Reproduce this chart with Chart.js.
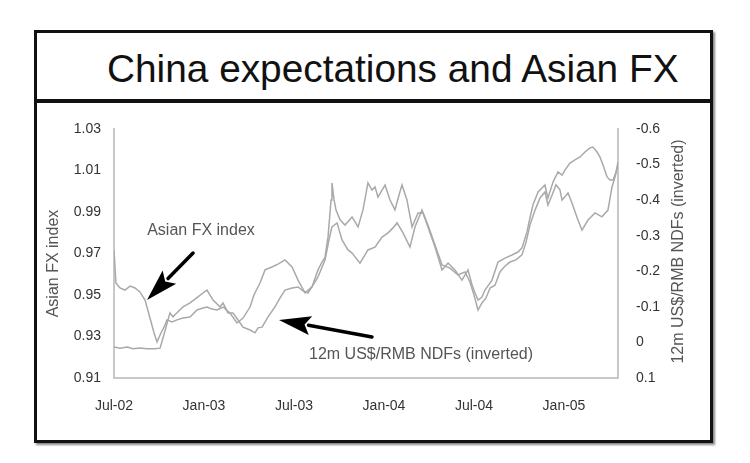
<!DOCTYPE html>
<html>
<head>
<meta charset="utf-8">
<script src="https://cdn.jsdelivr.net/npm/chart.js@4/dist/chart.umd.min.js"></script>
<style>
html,body{margin:0;padding:0;background:#fff;}
body{width:750px;height:463px;position:relative;overflow:hidden;font-family:"Liberation Sans",Arial,sans-serif;}
#frame{position:absolute;left:34px;top:30px;width:673px;height:407px;border:3px solid #111;box-shadow:2px 2px 2px #888;}
#divider{position:absolute;left:34px;top:99px;width:679px;height:4px;background:#111;}
#title{position:absolute;left:107px;top:50px;font-size:38.8px;line-height:38px;color:#111;white-space:nowrap;}
#c{position:absolute;left:0;top:0;}
</style>
</head>
<body>
<div id="frame"></div>
<div id="divider"></div>
<div id="title">China expectations and Asian FX</div>
<canvas id="c" width="750" height="463"></canvas>
<script>
// ---- data (x = months since Jul-02) ----
const xTickLabels = ['Jul-02', 'Jan-03', 'Jul-03', 'Jan-04', 'Jul-04', 'Jan-05'];
const leftTitle = 'Asian FX index';
const rightTitle = '12m US$/RMB NDFs (inverted)';

const asianMonths = [
  0, 0.13, 0.4, 0.73, 1.07, 1.4, 1.73, 2.07, 2.4, 2.67,
  2.87, 3.13, 3.4, 3.53, 3.87, 4.2, 4.6, 5.07, 5.53, 5.93,
  6.2, 6.53, 6.87, 7.27, 7.73, 8.2, 8.6, 9.07, 9.33, 9.73,
  10.07, 10.53, 10.93, 11.4, 11.87, 12.27, 12.73, 13.2, 13.6, 13.87,
  14.07, 14.27, 14.47, 14.53, 14.67, 14.8, 15.07, 15.4, 15.87, 16.27,
  16.6, 16.93, 17.2, 17.4, 17.6, 17.87, 18.07, 18.4, 18.73, 19.0,
  19.2, 19.53, 19.87, 20.27, 20.6, 20.93, 21.4, 21.87, 22.27, 22.73,
  23.2, 23.6, 23.87, 24.07, 24.27, 24.53, 24.73, 25.2, 25.6, 26.07,
  26.53, 26.93, 27.2, 27.53, 27.73, 27.93, 28.27, 28.73, 28.93, 29.27,
  29.6, 29.87, 30.07, 30.4, 30.73, 31.07, 31.4, 31.73, 31.93, 32.2,
  32.4, 32.67, 32.87, 33.07, 33.27, 33.47, 33.6
];
const asianIndex = [
  0.9717, 0.9558, 0.9534, 0.9524, 0.9543, 0.9534, 0.9515, 0.9476, 0.9389, 0.9317,
  0.9274, 0.9317, 0.9355, 0.9380, 0.9370, 0.9380, 0.9389, 0.9394, 0.9428, 0.9437,
  0.9442, 0.9433, 0.9428, 0.9442, 0.9413, 0.9365, 0.9389, 0.9442, 0.9500, 0.9558,
  0.9621, 0.9635, 0.9649, 0.9669, 0.9635, 0.9572, 0.9510, 0.9539, 0.9621, 0.9659,
  0.9683, 0.9780, 0.9958, 1.0040, 0.9958, 0.9910, 0.9862, 0.9837, 0.9876, 0.9828,
  0.9910, 1.0040, 1.0006, 1.0021, 0.9972, 1.0006, 1.0030, 0.9958, 0.9910, 0.9982,
  1.0030, 0.9958, 0.9828, 0.9895, 0.9895, 0.9828, 0.9731, 0.9621, 0.9654, 0.9621,
  0.9572, 0.9621, 0.9548, 0.9510, 0.9476, 0.9490, 0.9524, 0.9572, 0.9659, 0.9678,
  0.9693, 0.9707, 0.9727, 0.9804, 0.9871, 0.9934, 0.9997, 1.0030, 0.9968, 1.0045,
  1.0093, 1.0078, 1.0103, 1.0136, 1.0151, 1.0165, 1.0189, 1.0209, 1.0213, 1.0189,
  1.0165, 1.0112, 1.0069, 1.0054, 1.0054, 1.0093, 1.0141
];

const ndfMonths = [
  0, 0.4, 0.87, 1.27, 1.73, 2.2, 2.73, 3.07, 3.27, 3.47,
  3.73, 3.93, 4.27, 4.6, 5.07, 5.6, 5.93, 6.2, 6.4, 6.6,
  7.07, 7.27, 7.6, 7.93, 8.27, 8.6, 9.07, 9.4, 9.6, 9.87,
  10.27, 10.73, 11.07, 11.4, 11.87, 12.27, 12.6, 12.93, 13.27, 13.6,
  14.07, 14.33, 14.53, 14.87, 15.2, 15.6, 15.87, 16.13, 16.4, 16.73,
  16.93, 17.4, 17.87, 18.27, 18.6, 18.87, 19.27, 19.73, 20.07, 20.53,
  20.93, 21.4, 21.87, 22.4, 22.93, 23.4, 23.73, 24.0, 24.27, 24.53,
  24.8, 25.07, 25.4, 25.73, 26.07, 26.4, 26.8, 27.2, 27.47, 27.73,
  28.07, 28.4, 28.73, 28.93, 29.2, 29.47, 29.73, 29.87, 30.27, 30.53,
  30.93, 31.2, 31.6, 32.07, 32.53, 32.93, 33.2, 33.4, 33.6
];
const ndfValues = [
  0.013, 0.016, 0.013, 0.018, 0.016, 0.018, 0.018, 0.016, -0.013, -0.043,
  -0.083, -0.072, -0.086, -0.100, -0.111, -0.128, -0.139, -0.147, -0.133, -0.119,
  -0.100, -0.111, -0.083, -0.083, -0.063, -0.043, -0.035, -0.027, -0.041, -0.043,
  -0.072, -0.100, -0.125, -0.147, -0.153, -0.156, -0.145, -0.139, -0.161, -0.184,
  -0.232, -0.288, -0.325, -0.336, -0.288, -0.260, -0.251, -0.237, -0.223, -0.246,
  -0.260, -0.268, -0.296, -0.308, -0.322, -0.336, -0.308, -0.268, -0.325, -0.372,
  -0.330, -0.274, -0.218, -0.209, -0.190, -0.198, -0.170, -0.133, -0.091, -0.111,
  -0.125, -0.153, -0.161, -0.198, -0.215, -0.226, -0.232, -0.246, -0.282, -0.330,
  -0.372, -0.406, -0.423, -0.386, -0.414, -0.443, -0.429, -0.400, -0.420, -0.392,
  -0.344, -0.316, -0.344, -0.364, -0.353, -0.372, -0.437, -0.465, -0.499
];

// annotations (anchored in data coordinates: months, Asian FX index)
const annotations = [
  {text: 'Asian FX index', at: [5.8, 0.9809], tail: [5.27, 0.9702], tip: [2.2, 0.9476]},
  {text: '12m US$/RMB NDFs (inverted)', at: [20.47, 0.9211], tail: [17.2, 0.9298], tip: [11.0, 0.9380]}
];

const FONT = '"Liberation Sans", Arial, sans-serif';

function drawArrow(ctx, x1, y1, x2, y2, headLen, headW, shaftW) {
  const ang = Math.atan2(y2 - y1, x2 - x1);
  const c = Math.cos(ang), s = Math.sin(ang);
  const bx = x2 - headLen * c, by = y2 - headLen * s;
  ctx.strokeStyle = '#000';
  ctx.fillStyle = '#000';
  ctx.lineWidth = shaftW;
  ctx.lineCap = 'round';
  ctx.beginPath(); ctx.moveTo(x1, y1); ctx.lineTo(bx + 2 * c, by + 2 * s); ctx.stroke();
  ctx.beginPath();
  ctx.moveTo(x2, y2);
  ctx.lineTo(bx + headW / 2 * s, by - headW / 2 * c);
  ctx.lineTo(bx + 6 * c, by + 6 * s);
  ctx.lineTo(bx - headW / 2 * s, by + headW / 2 * c);
  ctx.closePath();
  ctx.fill();
}

const annotPlugin = {
  id: 'annot',
  afterDraw(chart) {
    const {ctx, chartArea: a, scales: {x, yL}} = chart;
    ctx.save();
    ctx.font = '16px ' + FONT;
    ctx.fillStyle = '#555';
    ctx.textAlign = 'center';
    ctx.textBaseline = 'middle';
    // axis titles
    ctx.save();
    ctx.translate(a.left - 60, (a.top + a.bottom) / 2 + 10);
    ctx.rotate(-Math.PI / 2);
    ctx.fillText(leftTitle, 0, 0);
    ctx.restore();
    ctx.save();
    ctx.translate(a.right + 61, (a.top + a.bottom) / 2 - 2);
    ctx.rotate(-Math.PI / 2);
    ctx.fillText(rightTitle, 0, 0);
    ctx.restore();
    // annotations
    annotations.forEach(an => {
      ctx.fillStyle = '#555';
      ctx.fillText(an.text, x.getPixelForValue(an.at[0]), yL.getPixelForValue(an.at[1]));
      drawArrow(ctx,
        x.getPixelForValue(an.tail[0]), yL.getPixelForValue(an.tail[1]),
        x.getPixelForValue(an.tip[0]), yL.getPixelForValue(an.tip[1]),
        32, 19, 3.5);
    });
    ctx.restore();
  }
};

const tickFont = {family: FONT, size: 14};
const axisBorder = {display: true, color: '#c8c8c8', width: 2};

new Chart(document.getElementById('c'), {
  type: 'line',
  data: {
    datasets: [
      {
        label: leftTitle,
        data: asianMonths.map((m, i) => ({x: m, y: asianIndex[i]})),
        yAxisID: 'yL',
        borderColor: '#a9a9a9',
        borderWidth: 1.5,
        pointRadius: 0,
        tension: 0,
        fill: false
      },
      {
        label: rightTitle,
        data: ndfMonths.map((m, i) => ({x: m, y: ndfValues[i]})),
        yAxisID: 'yR',
        borderColor: '#a9a9a9',
        borderWidth: 1.5,
        pointRadius: 0,
        tension: 0,
        fill: false
      }
    ]
  },
  options: {
    responsive: false,
    animation: false,
    layout: {padding: {top: 129, bottom: 30, left: 35, right: 30}},
    plugins: {legend: {display: false}, tooltip: {enabled: false}, title: {display: false}},
    scales: {
      x: {
        type: 'linear', min: 0, max: 33.6,
        grid: {display: false, drawTicks: false},
        border: axisBorder,
        ticks: {
          stepSize: 6, autoSkip: false, maxRotation: 0, minRotation: 0, padding: 20,
          font: tickFont, color: '#333',
          callback: v => (Math.abs(v % 6) < 1e-6 ? xTickLabels[Math.round(v / 6)] : null)
        },
        afterFit: s => { s.height = 55; }
      },
      yL: {
        position: 'left', min: 0.91, max: 1.03,
        grid: {display: false, drawTicks: false},
        border: axisBorder,
        ticks: {stepSize: 0.02, padding: 13, font: tickFont, color: '#333', callback: v => v.toFixed(2)},
        afterFit: s => { s.width = 79; }
      },
      yR: {
        position: 'right', min: -0.6, max: 0.1, reverse: true,
        grid: {display: false, drawTicks: false},
        border: axisBorder,
        ticks: {
          stepSize: 0.1, padding: 18, font: tickFont, color: '#333',
          callback: v => { const r = Math.round(v * 10) / 10; return r === 0 ? '0' : r.toFixed(1); }
        },
        afterFit: s => { s.width = 102; }
      }
    }
  },
  plugins: [annotPlugin]
});
</script>
</body>
</html>
